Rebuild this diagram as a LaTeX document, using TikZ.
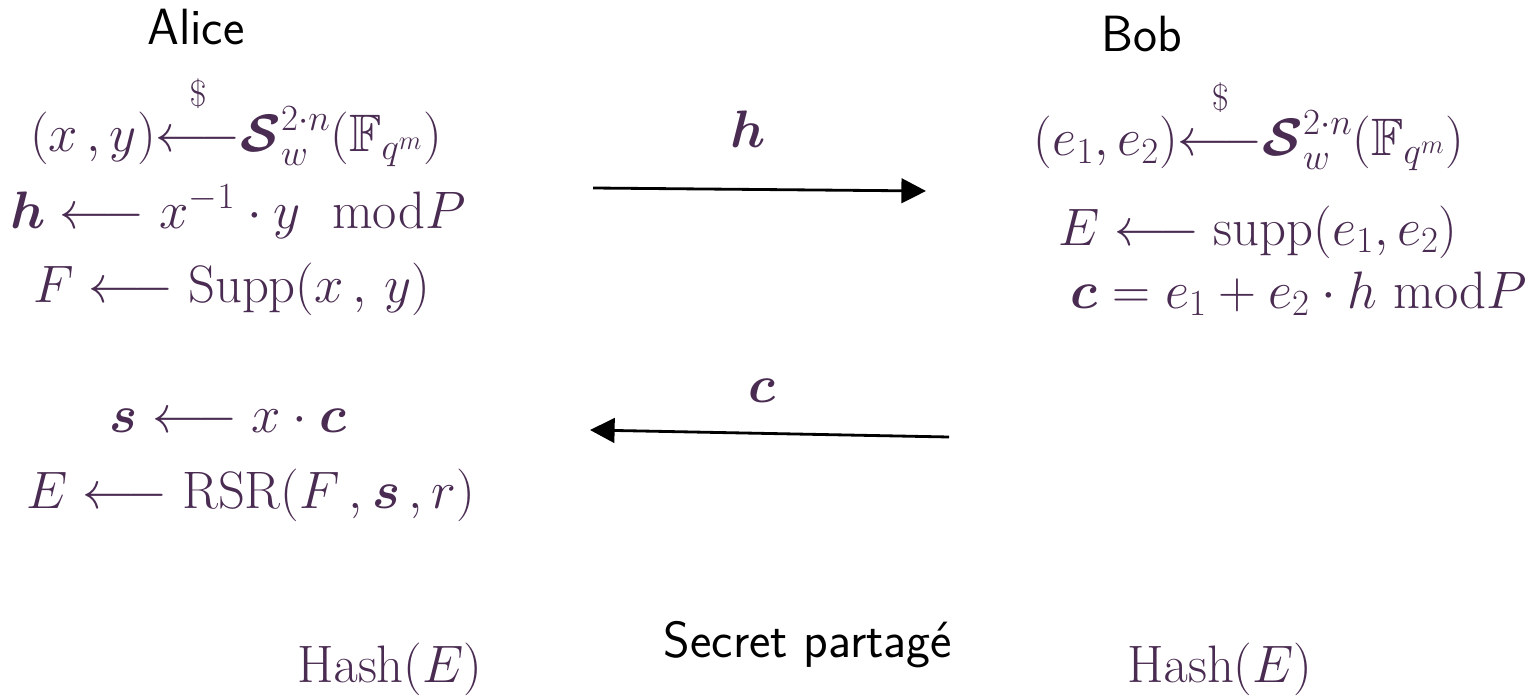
\RequirePackage{fix-cm}
\documentclass[tikz,border=0pt]{standalone}
\DeclareFontFamily{U}{msb}{}
\DeclareFontShape{U}{msb}{m}{n}{<-6> msbm5 <6-8> msbm7 <8-> msbm10}{}
\usepackage{amsmath,amssymb,bm}
\usetikzlibrary{arrows.meta}
\definecolor{mathpurple}{RGB}{74,44,82}
\newcommand{\rnd}{{\overset{\raisebox{0.3em}{$\scriptstyle\$$}}{\longleftarrow}}}
\begin{document}
\begin{tikzpicture}[x=0.02cm,y=-0.02cm,
  eq/.style={anchor=base,text=mathpurple,inner sep=0pt,font=\fontsize{30}{36}\selectfont},
  who/.style={anchor=base,text=black,inner sep=0pt,font=\fontsize{29}{34}\selectfont\sffamily},
  msg/.style={-{Triangle[length=14pt,width=14pt]},line width=1.6pt,black}]
\useasboundingbox (0,0) rectangle (1540,699);
\node[who] (alice) at (196,45) {Alice};
\node[who] (bob) at (1142,52) {Bob};
\node[eq] (a1) at (236,152) {$(x\,, y)\rnd\bm{\mathcal{S}}_w^{2\cdot n}(\mathbb{F}_{q^m})$};
\node[eq] (a2) at (238,228) {$\bm{h} \longleftarrow x^{-1}\cdot y\ \ \mathrm{mod} P$};
\node[eq] (a3) at (232,302) {$F \longleftarrow \mathrm{Supp}(x\,,\, y)$};
\node[eq] (b1) at (1249,156) {$(e_1, e_2)\rnd\bm{\mathcal{S}}_w^{2\cdot n}(\mathbb{F}_{q^m})$};
\node[eq] (b2) at (1258,245) {$E \longleftarrow \mathrm{supp}(e_1,e_2)$};
\node[eq] (b3) at (1299,308) {$\bm{c} = e_1 + e_2\cdot h\ \mathrm{mod} P$};
\node[eq] (hl) at (748,148) {$\bm{h}$};
\node[eq] (cl) at (762,402) {$\bm{c}$};
\coordinate (h0) at (593,188);
\coordinate (h1) at (926,191);
\coordinate (c0) at (949,437);
\coordinate (c1) at (590,430);
\draw[msg] (h0) -- (h1);
\draw[msg] (c0) -- (c1);
\node[eq] (a4) at (228,432) {$\bm{s} \longleftarrow x\cdot \bm{c}$};
\node[eq] (a5) at (251,508) {$E \longleftarrow \mathrm{RSR}(F\,,\bm{s}\,,r)$};
\node[eq] (ha) at (390,682) {$\mathrm{Hash}(E)$};
\node[eq] (hb) at (1220,682) {$\mathrm{Hash}(E)$};
\node[who] (sec) at (808,657) {Secret partagé};
\end{tikzpicture}
\end{document}
